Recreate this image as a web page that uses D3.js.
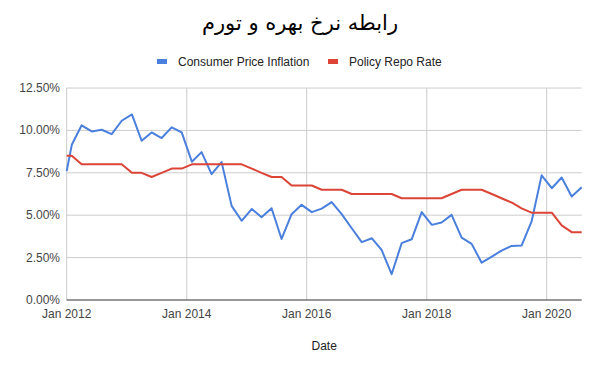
<!DOCTYPE html>
<html>
<head>
<meta charset="utf-8">
<script src="https://cdn.jsdelivr.net/npm/d3@7"></script>
<style>
  body { margin: 0; background: #fff; }
  text { font-family: "Liberation Sans", Arial, sans-serif; }
</style>
</head>
<body>
<script>
// Dates (year-month) of each sample
var dates = ["2012-01","2012-02","2012-04","2012-06","2012-08","2012-10","2012-12",
             "2013-02","2013-04","2013-06","2013-08","2013-10","2013-12",
             "2014-02","2014-04","2014-06","2014-08","2014-10","2014-12",
             "2015-02","2015-04","2015-06","2015-08","2015-10","2015-12",
             "2016-02","2016-04","2016-06","2016-08","2016-10","2016-12",
             "2017-02","2017-04","2017-06","2017-08","2017-10","2017-12",
             "2018-02","2018-04","2018-06","2018-08","2018-10","2018-12",
             "2019-02","2019-04","2019-06","2019-08","2019-10","2019-12",
             "2020-02","2020-04","2020-06","2020-08"];

// Consumer Price Inflation (%)
var cpi = [7.6, 9.15, 10.3, 9.94, 10.04, 9.78, 10.57,
           10.94, 9.39, 9.88, 9.55, 10.18, 9.88,
           8.15, 8.72, 7.42, 8.13, 5.55, 4.67,
           5.37, 4.88, 5.41, 3.6, 5.06, 5.61,
           5.18, 5.39, 5.77, 5.06, 4.23, 3.41,
           3.64, 2.95, 1.52, 3.35, 3.58, 5.18,
           4.43, 4.57, 5.02, 3.68, 3.31, 2.2,
           2.56, 2.91, 3.19, 3.21, 4.63, 7.35,
           6.59, 7.22, 6.1, 6.65];

// Policy Repo Rate (%)
var repo = [8.5, 8.5, 8.0, 8.0, 8.0, 8.0, 8.0,
            7.5, 7.5, 7.25, 7.5, 7.75, 7.75,
            8.0, 8.0, 8.0, 8.0, 8.0, 8.0,
            7.75, 7.5, 7.25, 7.25, 6.75, 6.75,
            6.75, 6.5, 6.5, 6.5, 6.25, 6.25,
            6.25, 6.25, 6.25, 6.0, 6.0, 6.0,
            6.0, 6.0, 6.25, 6.5, 6.5, 6.5,
            6.25, 6.0, 5.75, 5.4, 5.15, 5.15,
            5.15, 4.4, 4.0, 4.0];

var yTicks = [0, 2.5, 5, 7.5, 10, 12.5];
var xTickYears = [2012, 2014, 2016, 2018, 2020];

var seriesNames = ["Consumer Price Inflation", "Policy Repo Rate"];
var seriesColors = ["#4a7fde", "#db4437"];

var w = 600;
var h = 371;
var margin = {left: 66.7, right: 18.3, top: 88, bottom: 71};

var parse = d3.timeParse("%Y-%m");

var x = d3.scaleTime()
          .domain([parse(dates[0]), parse(dates[dates.length - 1])])
          .range([margin.left, w - margin.right]);

var y = d3.scaleLinear()
          .domain([0, 12.5])
          .range([h - margin.bottom, margin.top]);

var svg = d3.select("body")
            .append("svg")
            .attr("width", w)
            .attr("height", h);

//Title
svg.append("text")
   .attr("x", 300)
   .attr("y", 30)
   .attr("text-anchor", "middle")
   .attr("font-size", "21px")
   .style("font-family", "'DejaVu Sans', sans-serif")
   .attr("fill", "#000")
   .text("رابطه نرخ بهره و تورم");

//Legend
var legendX = [157, 328];
seriesNames.forEach((name, i) => {
    svg.append("rect")
       .attr("x", legendX[i])
       .attr("y", 59)
       .attr("width", 10)
       .attr("height", 5)
       .attr("fill", seriesColors[i]);
    svg.append("text")
       .attr("x", legendX[i] + 21)
       .attr("y", 66)
       .attr("font-size", "12px")
       .attr("fill", "#222")
       .text(name);
});

//Horizontal gridlines
svg.append("g")
   .selectAll("line")
   .data(yTicks.slice(1))
   .enter()
   .append("line")
   .attr("x1", margin.left)
   .attr("x2", w - margin.right)
   .attr("y1", (d) => y(d))
   .attr("y2", (d) => y(d))
   .attr("stroke", "#cccccc")
   .attr("stroke-width", 1);

//Vertical gridlines
svg.append("g")
   .selectAll("line")
   .data(xTickYears)
   .enter()
   .append("line")
   .attr("x1", (d) => x(new Date(d, 0, 1)))
   .attr("x2", (d) => x(new Date(d, 0, 1)))
   .attr("y1", margin.top)
   .attr("y2", h - margin.bottom)
   .attr("stroke", "#cccccc")
   .attr("stroke-width", 1);

//Y labels
svg.append("g")
   .selectAll("text")
   .data(yTicks)
   .enter()
   .append("text")
   .attr("x", 60)
   .attr("y", (d) => y(d) + 4)
   .attr("text-anchor", "end")
   .attr("font-size", "12px")
   .attr("fill", "#444")
   .text((d) => d3.format(".2f")(d) + "%");

//X labels
svg.append("g")
   .selectAll("text")
   .data(xTickYears)
   .enter()
   .append("text")
   .attr("x", (d) => x(new Date(d, 0, 1)))
   .attr("y", h - margin.bottom + 18)
   .attr("text-anchor", "middle")
   .attr("font-size", "12px")
   .attr("fill", "#444")
   .text((d) => "Jan " + d);

//Axis title
svg.append("text")
   .attr("x", (margin.left + w - margin.right) / 2)
   .attr("y", 350)
   .attr("text-anchor", "middle")
   .attr("font-size", "12px")
   .attr("fill", "#222")
   .text("Date");

//Lines
var line = d3.line()
             .x((d) => x(d.date))
             .y((d) => y(d.value));

[cpi, repo].forEach((values, i) => {
    var data = dates.map((d, j) => ({date: parse(d), value: values[j]}));
    svg.append("path")
       .datum(data)
       .attr("d", line)
       .attr("fill", "none")
       .attr("stroke", seriesColors[i])
       .attr("stroke-width", 2)
       .attr("stroke-linejoin", "round");
});

//Baseline
svg.append("line")
   .attr("x1", margin.left)
   .attr("x2", w - margin.right)
   .attr("y1", y(0))
   .attr("y2", y(0))
   .attr("stroke", "#333")
   .attr("stroke-width", 1);
</script>
</body>
</html>
